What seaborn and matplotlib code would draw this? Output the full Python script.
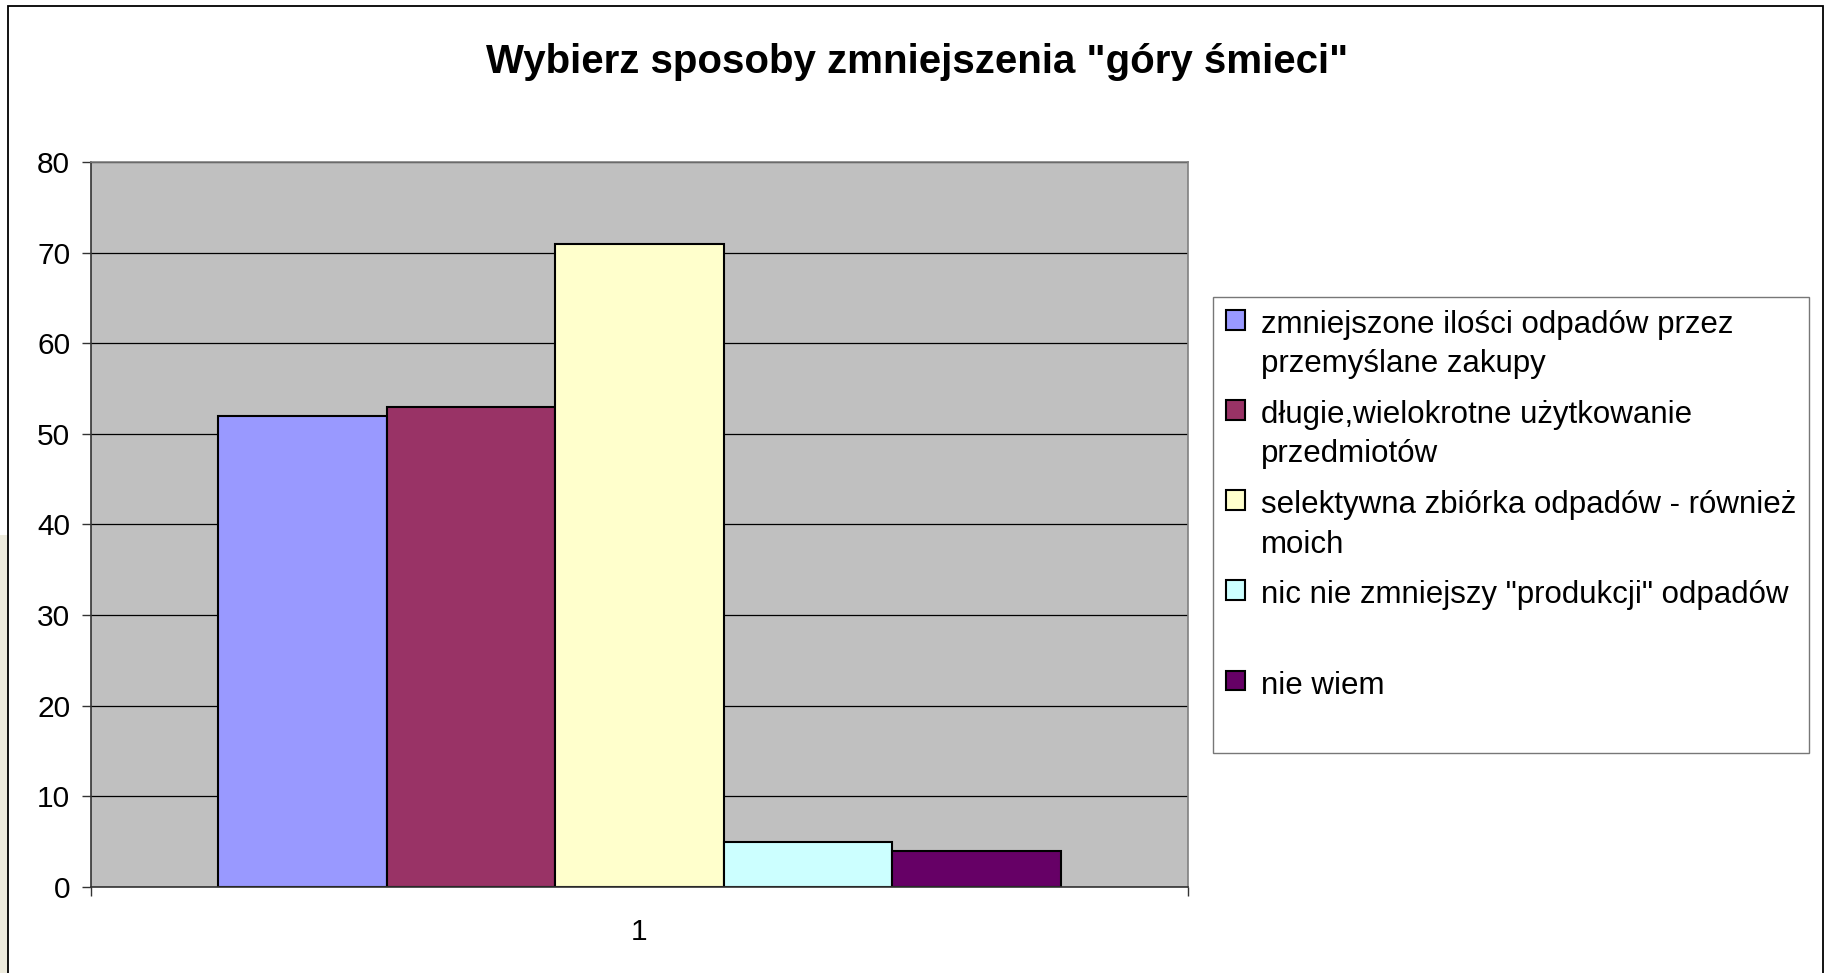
import matplotlib
matplotlib.use("Agg")
import matplotlib.pyplot as plt
import matplotlib.patches as mpatches
import pandas as pd
import seaborn as sns

# Data
kategorie = ["1"]
odpowiedzi = [
    "zmniejszone ilości odpadów przez\nprzemyślane zakupy",
    "długie,wielokrotne użytkowanie\nprzedmiotów",
    "selektywna zbiórka odpadów - również\nmoich",
    "nic nie zmniejszy \"produkcji\" odpadów",
    "nie wiem",
]
wartosci = [52, 53, 71, 5, 4]
kolory = ["#9999FF", "#993366", "#FFFFCC", "#CCFFFF", "#660066"]
y_ticks = [0, 10, 20, 30, 40, 50, 60, 70, 80]
tytul = 'Wybierz sposoby zmniejszenia "góry śmieci"'

df = pd.DataFrame({
    "kategoria": kategorie * len(odpowiedzi),
    "odpowiedz": odpowiedzi,
    "procent": wartosci,
})

sns.set_style("white", rc={"text.color": "black", "xtick.color": "black",
                           "ytick.color": "black", "axes.labelcolor": "black"})
plt.rcParams["font.family"] = ["Liberation Sans", "DejaVu Sans"]

fig = plt.figure(figsize=(18.27, 9.73), dpi=100)
fig.patch.set_facecolor("white")
ax = fig.add_axes([0.0498, 0.0884, 0.6004, 0.7451])
ax.set_facecolor("#C0C0C0")

sns.barplot(data=df, x="kategoria", y="procent", hue="odpowiedz",
            palette=kolory, width=0.768, edgecolor="black", linewidth=1.5,
            saturation=1, ax=ax)

ax.set_xlim(-0.5, 0.5)
ax.set_ylim(0, 80)
ax.set_yticks(y_ticks)
ax.yaxis.grid(True, color="black", linewidth=0.9)
ax.set_axisbelow(True)
ax.set_xlabel("")
ax.set_ylabel("")

# x axis: label in the middle, tick marks at the category edges
ax.set_xticks([0])
ax.set_xticklabels(kategorie)
ax.set_xticks([-0.5, 0.5], minor=True)
ax.tick_params(axis="x", which="major", length=0, pad=22, labelsize=21.5,
               labelcolor="black")
ax.tick_params(axis="x", which="minor", length=6.5, width=1, color="#333333",
               direction="out", bottom=True)
ax.tick_params(axis="y", length=6.5, width=1, color="#333333", direction="out",
               left=True, pad=8.5, labelsize=21.5, labelcolor="black")

for side in ["top", "right"]:
    ax.spines[side].set_color("#808080")
    ax.spines[side].set_linewidth(1.2)
for side in ["left", "bottom"]:
    ax.spines[side].set_color("#333333")
    ax.spines[side].set_linewidth(1.2)

# single-line entries take two rows in the original legend
handles, labels = ax.get_legend_handles_labels()
labels = [l if "\n" in l else l + "\n " for l in labels]
leg = ax.legend(handles, labels, loc="upper left", bbox_to_anchor=(0.664, 0.6948),
                bbox_transform=fig.transFigure, borderaxespad=0, fontsize=22.5,
                frameon=True, fancybox=False, shadow=False, edgecolor="#555555",
                handlelength=0.6, handleheight=0.6, handletextpad=0.5,
                labelspacing=0.67, borderpad=0.42, labelcolor="black")
leg.get_frame().set_linewidth(1.0)
for t in leg.get_texts():
    t.set_linespacing(1.4)
# align the colour boxes with the first line of each label
for col in leg._legend_handle_box.get_children():
    for row in col.get_children():
        row.align = "top"

fig.text(0.502, 0.936, tytul, ha="center", va="center", fontsize=29,
         fontweight="bold", color="black")

# chart frame and slide background
fig.patches.append(mpatches.Rectangle((0, 0), 8 / 1827, 0.45, transform=fig.transFigure,
                                      facecolor="#EDEBDD", edgecolor="none", zorder=0))
fig.patches.append(mpatches.Rectangle((8 / 1827, -0.01), 1815 / 1827, 1.0038,
                                      transform=fig.transFigure, facecolor="none",
                                      edgecolor="black", linewidth=1.3, zorder=5))

fig.savefig("out.png", dpi=100)
